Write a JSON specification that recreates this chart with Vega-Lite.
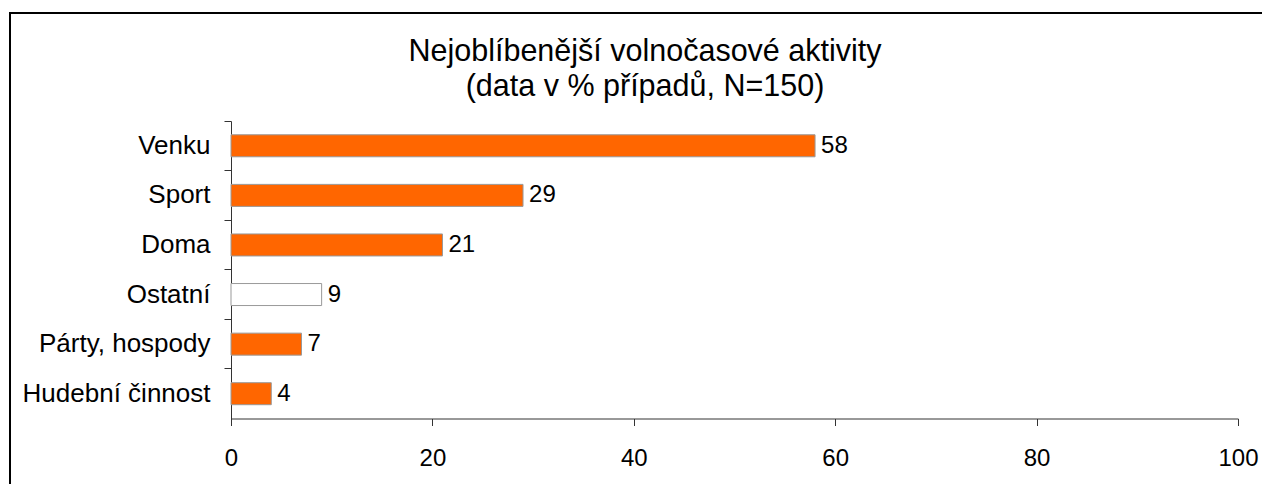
{
  "$schema": "https://vega.github.io/schema/vega-lite/v6.json",
  "autosize": {"type": "none"},
  "padding": {"left": 10, "top": 13, "right": 0, "bottom": 0},
  "width": 1256,
  "height": 476,
  "background": "white",
  "config": {
    "view": {"stroke": "black", "strokeWidth": 2},
    "font": "Liberation Sans"
  },
  "title": {
    "text": ["Nejoblíbenější volnočasové aktivity", "(data v % případů, N=150)"],
    "orient": "top",
    "anchor": "middle",
    "frame": "group",
    "baseline": "alphabetic",
    "offset": 0,
    "dy": 113,
    "dx": 7,
    "lineHeight": 35,
    "font": "Liberation Sans",
    "fontSize": 30.5,
    "fontWeight": "normal",
    "color": "black"
  },
  "data": {
    "values": [
      {"kategorie": "Venku", "hodnota": 58},
      {"kategorie": "Sport", "hodnota": 29},
      {"kategorie": "Doma", "hodnota": 21},
      {"kategorie": "Ostatní", "hodnota": 9},
      {"kategorie": "Párty, hospody", "hodnota": 7},
      {"kategorie": "Hudební činnost", "hodnota": 4}
    ]
  },
  "encoding": {
    "y": {
      "field": "kategorie",
      "type": "nominal",
      "sort": null,
      "scale": {"range": [108, 405.5], "paddingInner": 0, "paddingOuter": 0},
      "axis": {
        "title": null,
        "offset": -221,
        "bandPosition": 0,
        "domainColor": "#333333",
        "tickColor": "#333333",
        "tickSize": 7,
        "labelPadding": 14,
        "labelLimit": 0,
        "labelFontSize": 26,
        "labelColor": "black",
        "labelFont": "Liberation Sans",
        "grid": false
      }
    },
    "x": {
      "field": "hodnota",
      "type": "quantitative",
      "scale": {"domain": [0, 100], "range": [221, 1228], "nice": false},
      "axis": {
        "title": null,
        "offset": -70.5,
        "values": [0, 20, 40, 60, 80, 100],
        "labelFlush": false,
        "domainColor": "#333333",
        "tickColor": "#333333",
        "tickSize": 7,
        "labelPadding": 21,
        "labelFontSize": 24,
        "labelColor": "black",
        "labelFont": "Liberation Sans",
        "grid": false
      }
    }
  },
  "layer": [
    {
      "mark": {"type": "bar", "size": 22, "stroke": "#999999", "strokeWidth": 1},
      "encoding": {
        "fill": {
          "condition": {"test": "datum.kategorie === 'Ostatní'", "value": "white"},
          "value": "#FF6600"
        }
      }
    },
    {
      "mark": {"type": "text", "align": "left", "baseline": "middle", "dx": 6, "fontSize": 24, "font": "Liberation Sans", "color": "black"},
      "encoding": {
        "text": {"field": "hodnota", "type": "quantitative"}
      }
    }
  ]
}
